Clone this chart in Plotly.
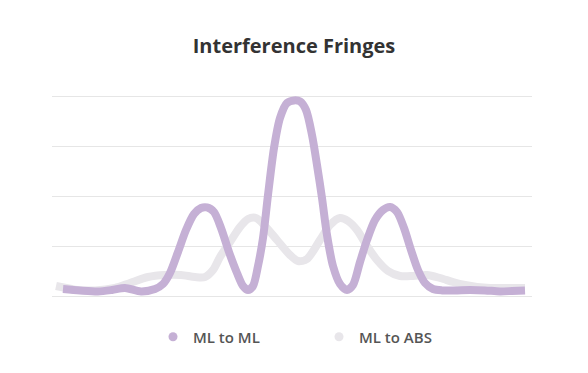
import plotly.graph_objects as go

# positions (arbitrary units, 0 = centre) and normalised intensities
ml_ml_x = [-23.4, -21.7, -19.9, -18.5, -17.2, -15.6, -14.2, -13.4, -12.7, -11.9,
           -11.1, -10.3, -9.6, -9.0, -8.3, -7.6, -6.8, -6.0, -5.4, -4.9,
           -4.4, -3.9, -3.4, -2.9, -2.3, -1.7, -1.0, -0.3, 0.3, 0.9,
           1.5, 2.0, 2.5, 3.0, 3.6, 4.3, 5.0, 5.6, 6.3, 7.0,
           7.8, 8.6, 9.3, 10.0, 10.7, 11.4, 12.1, 12.8, 13.6, 14.5,
           15.8, 17.3, 18.8, 20.3, 21.5, 22.8]
ml_ml_y = [0.035, 0.028, 0.023, 0.030, 0.040, 0.023, 0.035, 0.060, 0.115, 0.220,
           0.330, 0.410, 0.440, 0.443, 0.420, 0.340, 0.220, 0.115, 0.050, 0.030,
           0.050, 0.150, 0.290, 0.505, 0.740, 0.890, 0.965, 0.978, 0.973, 0.930,
           0.805, 0.655, 0.490, 0.305, 0.150, 0.060, 0.030, 0.055, 0.170, 0.280,
           0.380, 0.430, 0.445, 0.420, 0.340, 0.230, 0.130, 0.065, 0.035, 0.028,
           0.028, 0.030, 0.028, 0.023, 0.025, 0.028]

ml_abs_x = [-24.1, -22.2, -20.2, -18.2, -16.7, -14.9, -13.2, -11.6, -10.2, -9.2,
            -8.4, -7.7, -6.7, -5.7, -4.9, -4.1, -3.2, -2.0, -0.7, 0.1,
            1.0, 2.3, 3.3, 4.3, 5.1, 6.0, 7.0, 8.0, 9.1, 10.3,
            11.6, 13.0, 14.3, 15.6, 16.8, 18.0, 19.3, 20.3, 22.8]
ml_abs_y = [0.050, 0.032, 0.028, 0.040, 0.065, 0.095, 0.105, 0.105, 0.095, 0.095,
            0.130, 0.195, 0.270, 0.345, 0.385, 0.390, 0.350, 0.280, 0.205, 0.175,
            0.185, 0.280, 0.355, 0.390, 0.375, 0.330, 0.250, 0.180, 0.125, 0.100,
            0.100, 0.105, 0.090, 0.070, 0.055, 0.045, 0.040, 0.040, 0.040]

series_names = ["ML to ML", "ML to ABS"]
purple = "#c5b0d5"
grey = "#e8e6ea"

fig = go.Figure()
fig.add_trace(go.Scatter(x=ml_abs_x, y=ml_abs_y, mode="lines", name=series_names[1],
                         line=dict(color=grey, width=8, shape="spline", smoothing=0.8),
                         showlegend=False, hoverinfo="skip"))
fig.add_trace(go.Scatter(x=ml_ml_x, y=ml_ml_y, mode="lines", name=series_names[0],
                         line=dict(color=purple, width=8, shape="spline", smoothing=0.8),
                         showlegend=False, hoverinfo="skip"))
# legend entries with circular symbols
fig.add_trace(go.Scatter(x=[None], y=[None], mode="markers", name=series_names[0],
                         marker=dict(color=purple, size=9), legend="legend"))
fig.add_trace(go.Scatter(x=[None], y=[None], mode="markers", name=series_names[1],
                         marker=dict(color=grey, size=9), legend="legend2"))

legend_font = dict(family="Open Sans", size=15, color="#555555", weight=600)
leg_y = 1 - 337 / 373
fig.update_layout(
    width=588, height=373,
    margin=dict(l=52, r=56, t=92, b=73, autoexpand=False),
    paper_bgcolor="white", plot_bgcolor="white",
    title=dict(text="Interference Fringes", x=0.5, xref="container", xanchor="center",
               y=1 - 46 / 373, yanchor="middle",
               font=dict(family="Open Sans", size=20, color="#333333", weight="bold")),
    xaxis=dict(range=[-24.5, 23.5], showgrid=False, zeroline=False,
               showticklabels=False, ticks="", showline=False),
    yaxis=dict(range=[-0.02, 1.02], tick0=0, dtick=0.25, showgrid=True,
               gridcolor="#e6e6e6", gridwidth=1,
               zeroline=False, showticklabels=False, ticks="", showline=False),
    legend=dict(x=153 / 588, xref="container", xanchor="left",
                y=leg_y, yref="container", yanchor="middle",
                font=legend_font, bgcolor="rgba(0,0,0,0)"),
    legend2=dict(x=319 / 588, xref="container", xanchor="left",
                 y=leg_y, yref="container", yanchor="middle",
                 font=legend_font, bgcolor="rgba(0,0,0,0)"),
    showlegend=True,
)

fig.write_html("out.html", config={"displayModeBar": False},
               post_script="document.body.style.margin='0';")
